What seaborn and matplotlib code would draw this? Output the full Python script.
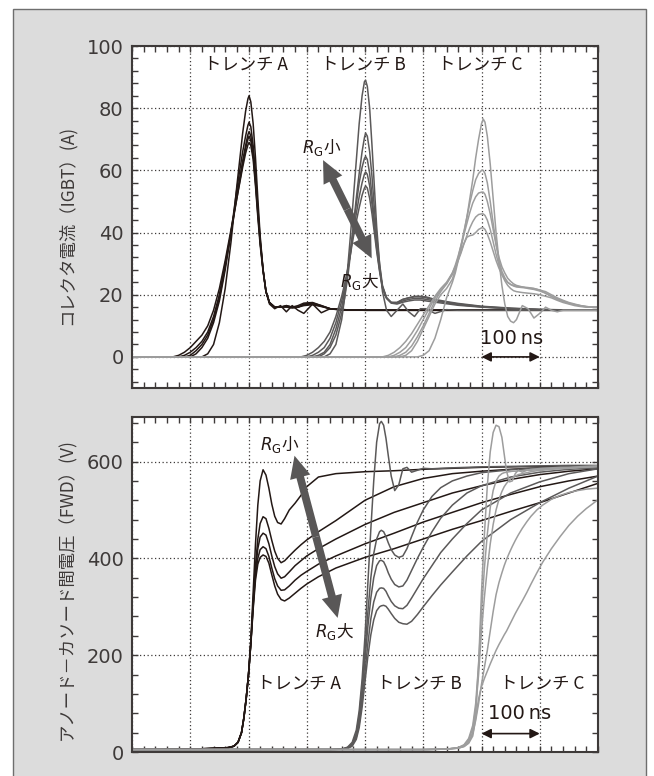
import numpy as np
import pandas as pd
import matplotlib
matplotlib.use("Agg")
import matplotlib.pyplot as plt
import seaborn as sns
from matplotlib.patches import Rectangle, FancyArrowPatch
from matplotlib.ticker import MultipleLocator

sns.set_theme(style="white")
plt.rcParams['font.family'] = ['Noto Sans CJK JP', 'DejaVu Sans']
plt.rcParams['mathtext.fontset'] = 'dejavusans'

# ---------------- data: collector current (A) ----------------
ic_t_A = [0, 70, 80, 90, 100, 110, 120, 130, 140, 150,
          160, 170, 180, 190, 195, 199, 201, 204, 208, 212,
          216, 220, 225, 230, 236, 245, 255, 265, 275, 285,
          295, 310, 325, 340, 360, 400, 500, 600, 700, 800]
ic_A = [
    [0, 0, 0, 0, 0, 0, 0, 1, 4, 11, 22, 37, 55, 72, 79, 83, 84, 82, 75, 64,
     51, 39, 28, 21, 17, 15.5, 16.5, 14.5, 16.5, 15, 14, 17, 14.2, 15.5, 15, 15, 15, 15, 15, 15],
    [0, 0, 0, 0, 0, 1, 3, 6, 11, 18, 28, 40, 54, 66, 71, 74.5, 75.5, 74, 68, 59,
     48, 38, 28, 21, 17.5, 16, 16, 16.5, 16, 16.5, 17.3, 17.5, 16.5, 15.5, 15.2, 15, 15, 15, 15, 15],
    [0, 0, 0, 0, 0.5, 2, 4, 7, 12, 19, 29, 40, 52, 63, 68, 71.5, 72.5, 71, 66, 57,
     47, 37, 28, 21, 17.5, 16, 16, 16.5, 16, 16, 17, 17.3, 16.5, 15.5, 15.2, 15, 15, 15, 15, 15],
    [0, 0, 0, 0.5, 1.5, 3, 5, 8, 13, 20, 30, 40, 51, 62, 67, 70, 71, 69.5, 65, 56,
     46, 37, 28, 21, 17.5, 16, 16, 16.2, 15.8, 16, 16.8, 17, 16.3, 15.5, 15.2, 15, 15, 15, 15, 15],
    [0, 0, 0.5, 1.5, 3, 5, 7, 10, 15, 22, 31, 41, 51, 61, 65.5, 68.2, 69, 68, 63.5, 55,
     45, 36, 27.5, 21, 17.5, 16, 16, 16, 15.8, 16, 16.5, 16.8, 16.2, 15.5, 15.2, 15, 15, 15, 15, 15],
]

ic_t_B = [0, 280, 290, 300, 310, 320, 330, 340, 350, 360,
          365, 370, 375, 380, 385, 390, 395, 399, 401, 404,
          408, 412, 416, 420, 425, 430, 437, 445, 455, 465,
          475, 485, 495, 505, 520, 540, 560, 600, 650, 700,
          750, 800]
ic_B = [
    [0, 0, 0, 0, 0, 0, 0, 1, 4, 12, 19, 28, 39, 51, 63, 75, 84, 88.5, 89, 87,
     80, 68, 55, 42, 30, 21, 15, 13, 15, 17, 14.5, 13, 15.5, 15.5, 14, 15.2, 15, 15, 15, 15,
     15, 15],
    [0, 0, 0, 0, 0, 0, 1, 3, 7, 14, 19, 25, 33, 42, 51, 59, 66, 70.5, 72, 71,
     66, 58, 48, 39, 30, 23, 19, 17.5, 17.5, 18.5, 19, 19.5, 19.5, 19.3, 18.5, 17.8, 17.2, 16.3, 15.7, 15.3,
     15.1, 15],
    [0, 0, 0, 0, 0, 0.5, 1.5, 4, 9, 16, 21, 27, 34, 42, 49, 56, 61, 63.8, 64.5, 63.5,
     59, 52, 44, 36, 28.5, 22.5, 19, 17.5, 17.5, 18.5, 19, 19.3, 19.3, 19, 18.3, 17.6, 17, 16.2, 15.6, 15.2,
     15.1, 15],
    [0, 0, 0, 0, 0.5, 1.5, 3, 6, 11, 18, 22, 27.5, 33.5, 40, 46, 51.5, 56, 58.8, 59.5, 58.7,
     55, 49, 42, 35, 28, 22.5, 19, 17.5, 17.3, 18, 18.5, 18.8, 18.8, 18.5, 18, 17.4, 16.8, 16.1, 15.5, 15.2,
     15.1, 15],
    [0, 0, 0, 0.5, 1.5, 3, 5, 8, 13, 19.5, 23.5, 28, 33, 38.5, 43.5, 48, 52, 54.3, 55, 54.3,
     51, 46, 40, 34, 27.5, 22, 18.8, 17.3, 17, 17.6, 18, 18.3, 18.3, 18, 17.6, 17.1, 16.6, 16, 15.5, 15.2,
     15.1, 15],
]

ic_t_C = [0, 420, 430, 440, 450, 460, 470, 480, 490, 500,
          510, 520, 530, 540, 550, 555, 560, 565, 570, 575,
          580, 585, 590, 595, 600, 603, 606, 610, 615, 620,
          625, 630, 635, 640, 645, 650, 655, 660, 670, 680,
          690, 700, 710, 720, 730, 740, 750, 760, 770, 780,
          790, 800]
ic_C = [
    [0, 0, 0, 0, 0, 0, 0, 0, 0, 0.5, 2, 6, 12, 19, 24, 27, 31, 35, 40, 45,
     51, 57, 64, 70, 75, 76.5, 75.5, 71, 62, 51, 40, 31, 23, 17, 13, 11.5, 11, 12, 16.5, 15.5,
     12.5, 14, 16, 15, 14.5, 15, 15, 15, 15, 15, 15, 15],
    [0, 0, 0, 0, 0, 0, 0.5, 2, 5, 9, 13, 17, 20, 22, 25, 28, 32, 36, 40.5, 45,
     49.5, 53.5, 57, 59, 60, 60, 59, 56, 50, 43, 36.5, 31, 27.5, 25.5, 24, 23.3, 23, 22.7, 22.5, 22.3,
     22, 21.5, 20.5, 19.5, 18.5, 17.8, 17.2, 16.8, 16.5, 16.2, 16, 16],
    [0, 0, 0, 0, 0, 0.5, 1.5, 3.5, 6.5, 10, 14, 18, 21, 23.5, 27, 29.5, 32.5, 36, 39.5, 43,
     46.5, 49.5, 51.5, 52.7, 53, 53, 52.3, 50, 46, 41, 36, 32, 29, 27, 25.3, 24.3, 23.5, 23, 22.5, 22,
     21.7, 21.2, 20.5, 19.5, 18.7, 18, 17.3, 16.8, 16.4, 16.1, 16, 16],
    [0, 0, 0, 0, 0.5, 1.5, 3, 5.5, 8.5, 12, 15.5, 19, 21.5, 23.5, 26.5, 28.5, 31, 33.5, 36.5, 39,
     41.5, 43.5, 45, 45.8, 46, 46, 45.5, 44, 41, 37, 33, 29.5, 26.5, 24.5, 23, 22, 21.3, 21, 20.7, 20.5,
     20.3, 20, 19.5, 19, 18.2, 17.5, 17, 16.5, 16.2, 16, 16, 15.9],
    [0, 0, 0, 0.5, 1.5, 3, 5, 7.5, 10.5, 13.5, 16.5, 19.5, 22, 24, 27, 29, 31.5, 34, 36.5, 38.5,
     39, 39.2, 40, 41, 41.5, 41.5, 41, 39.5, 37, 34, 31, 28.5, 26.5, 25, 24, 23.3, 22.8, 22.5, 22.3, 22.2,
     22, 21.5, 21, 20, 19, 18.2, 17.5, 17, 16.5, 16.2, 16, 16],
]

# ---------------- data: anode-cathode voltage (V) ----------------
vf_t_A = [0, 50, 100, 130, 150, 165, 175, 182, 188, 192,
          196, 200, 204, 208, 212, 216, 220, 225, 230, 235,
          240, 245, 250, 256, 262, 270, 280, 290, 300, 320,
          350, 400, 450, 500, 550, 600, 650, 700, 750, 800]
vf_A = [
    [5, 5, 6, 7, 8, 9, 12, 20, 40, 70, 110, 160, 230, 330, 430, 510, 560, 583, 572, 545,
     512, 487, 474, 471, 482, 500, 514, 530, 548, 568, 575, 579, 581, 584, 586, 588, 589, 590, 590, 591],
    [5, 5, 6, 7, 8, 9, 12, 20, 40, 70, 110, 160, 225, 310, 385, 440, 472, 486, 482, 462,
     437, 415, 400, 391, 395, 405, 417, 428, 438, 455, 478, 520, 548, 565, 575, 580, 584, 587, 589, 590],
    [5, 5, 6, 7, 8, 9, 12, 20, 40, 70, 110, 160, 225, 305, 375, 420, 444, 452, 448, 430,
     405, 383, 368, 359, 362, 372, 385, 395, 405, 420, 440, 470, 495, 515, 535, 550, 563, 573, 580, 585],
    [5, 5, 6, 7, 8, 9, 12, 20, 40, 70, 110, 160, 225, 300, 365, 400, 418, 424, 420, 404,
     380, 358, 343, 334, 335, 343, 355, 365, 373, 388, 405, 430, 452, 475, 495, 515, 532, 548, 560, 570],
    [5, 5, 6, 7, 8, 9, 12, 20, 40, 70, 110, 160, 222, 295, 355, 388, 402, 407, 404, 390,
     366, 343, 326, 315, 312, 318, 328, 338, 347, 362, 380, 402, 420, 440, 460, 478, 497, 515, 535, 555],
]

vf_t_B = [0, 300, 340, 360, 370, 378, 385, 390, 395, 400,
          405, 410, 415, 420, 425, 428, 432, 436, 440, 445,
          451, 458, 465, 472, 480, 490, 500, 515, 530, 550,
          575, 600, 650, 700, 750, 800]
vf_B = [
    [5, 5, 5, 6, 10, 20, 45, 85, 150, 240, 350, 460, 560, 640, 678, 683, 675, 648, 612, 570,
     540, 552, 585, 588, 578, 582, 586, 585, 586, 587, 588, 589, 590, 591, 592, 592],
    [5, 5, 5, 6, 9, 17, 38, 75, 135, 210, 290, 360, 410, 440, 455, 458, 455, 445, 432, 418,
     407, 402, 405, 420, 445, 475, 500, 528, 546, 560, 570, 577, 583, 587, 589, 590],
    [5, 5, 5, 6, 8, 15, 33, 65, 120, 190, 260, 318, 360, 385, 395, 396, 393, 383, 370, 357,
     346, 341, 343, 355, 375, 400, 423, 455, 483, 510, 535, 550, 568, 578, 584, 587],
    [5, 5, 5, 6, 8, 14, 30, 58, 105, 165, 225, 275, 310, 330, 338, 339, 338, 332, 322, 311,
     302, 297, 296, 303, 318, 338, 358, 385, 412, 440, 472, 500, 535, 558, 575, 585],
    [5, 5, 5, 6, 7, 12, 26, 50, 92, 145, 198, 242, 273, 292, 300, 302, 303, 301, 295, 286,
     276, 268, 265, 264, 270, 284, 300, 323, 345, 372, 405, 435, 480, 515, 545, 570],
]

vf_t_C = [0, 500, 540, 560, 570, 578, 585, 590, 595, 600,
          605, 610, 615, 620, 625, 630, 635, 639, 643, 648,
          653, 658, 663, 670, 678, 685, 695, 705, 720, 735,
          750, 765, 780, 800]
vf_C = [
    [5, 5, 6, 8, 12, 20, 40, 80, 180, 330, 450, 550, 620, 660, 675, 672, 650, 615, 580, 558,
     560, 575, 582, 578, 582, 584, 585, 586, 587, 588, 588, 589, 590, 591],
    [5, 5, 6, 9, 15, 28, 55, 100, 180, 290, 380, 450, 505, 540, 560, 570, 575, 577, 578, 579,
     580, 580, 581, 581, 582, 582, 583, 584, 585, 586, 587, 588, 589, 590],
    [5, 5, 6, 9, 14, 25, 48, 90, 160, 250, 320, 380, 430, 470, 500, 522, 538, 548, 555, 562,
     567, 570, 573, 575, 577, 579, 581, 582, 584, 585, 586, 587, 588, 590],
    [5, 5, 6, 8, 12, 20, 38, 65, 100, 140, 175, 210, 250, 290, 325, 350, 370, 385, 398, 412,
     425, 437, 448, 462, 476, 487, 500, 510, 522, 530, 536, 540, 543, 545],
    [5, 5, 6, 8, 11, 18, 33, 70, 110, 135, 152, 167, 182, 196, 210, 222, 233, 242, 250, 262,
     274, 286, 297, 312, 330, 347, 370, 392, 420, 445, 468, 487, 503, 521],
]

col_A, col_B, col_C = '#231815', '#5b5959', '#9d9d9d'


def long_df(groups):
    rows = []
    for tag, t, curves in groups:
        for i, vals in enumerate(curves):
            for tt, vv in zip(t, vals):
                rows.append((tt, vv, f'{tag}{i}'))
    return pd.DataFrame(rows, columns=['t', 'v', 'curve'])


df_ic = long_df([('A', ic_t_A, ic_A), ('B', ic_t_B, ic_B), ('C', ic_t_C, ic_C)])
df_vf = long_df([('A', vf_t_A, vf_A), ('B', vf_t_B, vf_B), ('C', vf_t_C, vf_C)])


def palette(df):
    cmap = {'A': col_A, 'B': col_B, 'C': col_C}
    return {c: cmap[c[0]] for c in df['curve'].unique()}


fig = plt.figure(figsize=(6.54, 7.76), dpi=100)
fig.patch.set_facecolor('white')
fig.patches.append(Rectangle((12.7 / 654, -0.05), (646 - 12.7) / 654, 1 - 9 / 776 + 0.05,
                             transform=fig.transFigure, facecolor='#dcdcdc',
                             edgecolor='#6e6e6e', lw=1.0, zorder=-10))

ax1 = fig.add_axes([132 / 654, 1 - 388 / 776, 466 / 654, 342 / 776])
ax2 = fig.add_axes([132 / 654, 1 - 752 / 776, 466 / 654, 335 / 776])

dark = '#3e3a39'
for ax, df in ((ax1, df_ic), (ax2, df_vf)):
    ax.set_facecolor('white')
    sns.lineplot(data=df, x='t', y='v', hue='curve', palette=palette(df),
                 estimator=None, sort=False, legend=False, lw=1.1, ax=ax)
    ax.set_xlim(0, 800)
    ax.xaxis.set_major_locator(MultipleLocator(100))
    ax.xaxis.set_minor_locator(MultipleLocator(20))
    ax.grid(True, which='major', linestyle=(0, (1, 2)), color=dark, lw=0.9)
    ax.tick_params(which='both', direction='in', top=True, right=True, bottom=True, left=True,
                   length=4, width=1, color=dark, labelbottom=False, pad=6)
    ax.tick_params(axis='y', labelsize=14, labelcolor=dark)
    for s in ax.spines.values():
        s.set_color(dark)
        s.set_linewidth(1.5)
    ax.set_xlabel('')

ax1.set_ylim(-10, 100)
ax1.yaxis.set_major_locator(MultipleLocator(20))
ax1.yaxis.set_minor_locator(MultipleLocator(4))
ax2.set_ylim(0, 692)
ax2.yaxis.set_major_locator(MultipleLocator(200))
ax2.yaxis.set_minor_locator(MultipleLocator(40))
for ax in (ax1, ax2):
    for lab in ax.get_yticklabels():
        lab.set_family('DejaVu Sans')

ax1.set_ylabel('コレクタ電流（IGBT）(A)', fontsize=12.5, color=dark)
ax2.set_ylabel('アノード－カソード間電圧（FWD）(V)', fontsize=12.5, color=dark)
ax1.yaxis.set_label_coords(-0.12, 0.477)
ax2.yaxis.set_label_coords(-0.12, 0.487)

txtc = '#231815'
for x, lab in ((196, 'トレンチ A'), (397, 'トレンチ B'), (598, 'トレンチ C')):
    ax1.text(x, 94, lab, ha='center', va='center', fontsize=12.5, color=txtc)
for x, lab in ((286, 'トレンチ A'), (494, 'トレンチ B'), (705, 'トレンチ C')):
    ax2.text(x, 141, lab, ha='center', va='center', fontsize=12.5, color=txtc)

# 100 ns scale markers
ax1.text(652, 6, '100\u2009ns', ha='center', va='center', fontsize=14, color=txtc, family='DejaVu Sans')
ax1.annotate('', xy=(600, 0), xytext=(700, 0),
             arrowprops=dict(arrowstyle='<|-|>', color=txtc, lw=1.2, mutation_scale=14,
                             shrinkA=0, shrinkB=0))
ax2.text(666, 79, '100\u2009ns', ha='center', va='center', fontsize=14, color=txtc, family='DejaVu Sans')
ax2.annotate('', xy=(600, 38), xytext=(700, 38),
             arrowprops=dict(arrowstyle='<|-|>', color=txtc, lw=1.2, mutation_scale=14,
                             shrinkA=0, shrinkB=0))


def big_arrow(ax, p1, p2):
    mid = ((p1[0] + p2[0]) / 2, (p1[1] + p2[1]) / 2)
    for tip in (p1, p2):
        ax.add_patch(FancyArrowPatch(mid, tip, arrowstyle='simple,head_length=0.8,head_width=0.75,tail_width=0.28',
                                     mutation_scale=20, color='#595757', lw=0, shrinkA=0, shrinkB=0, zorder=5))


big_arrow(ax1, (328, 63.3), (411.5, 31.7))
big_arrow(ax2, (279, 612), (353, 277))

ax1.text(326, 67.2, r'$R_{\mathrm{G}}$小', ha='center', va='center', fontsize=12, color=txtc)
ax1.text(390, 24.2, r'$R_{\mathrm{G}}$大', ha='center', va='center', fontsize=12, color=txtc)
ax2.text(254, 636, r'$R_{\mathrm{G}}$小', ha='center', va='center', fontsize=12, color=txtc)
ax2.text(347, 248, r'$R_{\mathrm{G}}$大', ha='center', va='center', fontsize=12, color=txtc)

fig.savefig('out.png', dpi=100, facecolor='white')
